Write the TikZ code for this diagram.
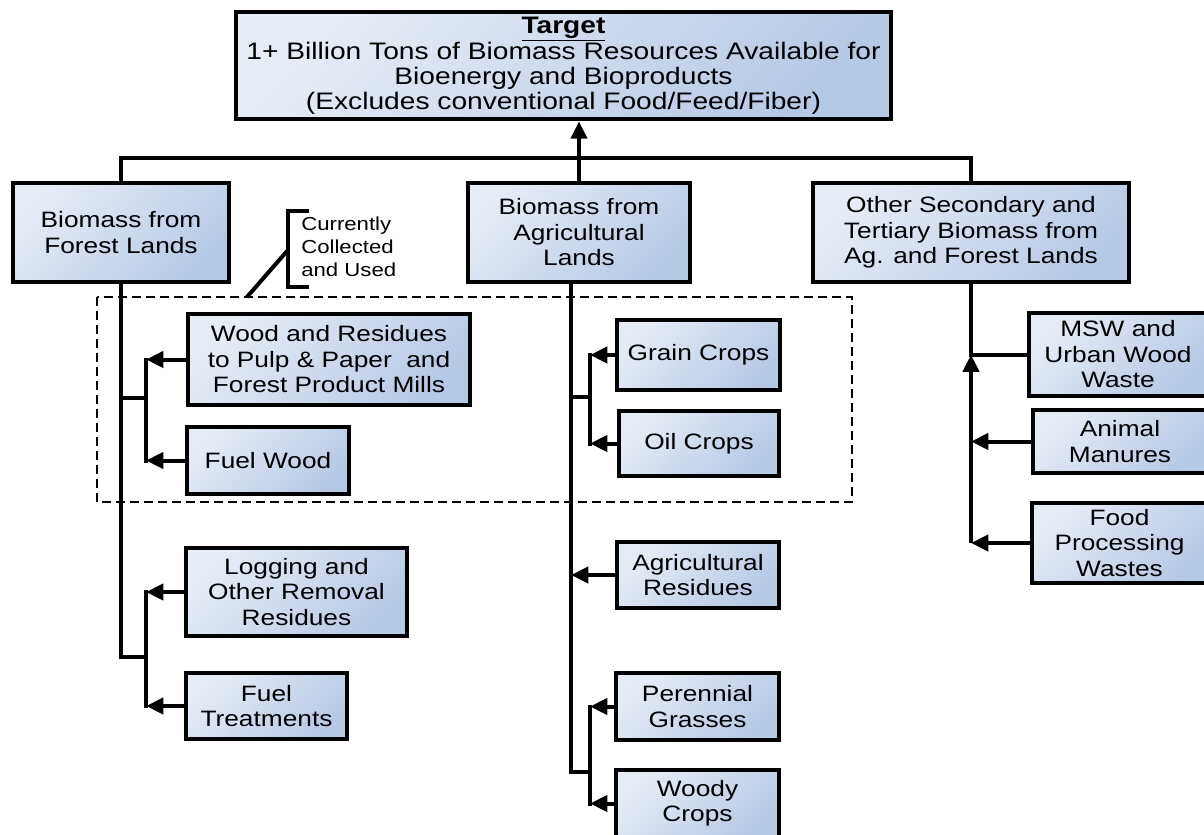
\documentclass[tikz,border=0pt]{standalone}
\usepackage{fontspec}
\setmainfont{Liberation Sans}[FakeStretch=1.18]
\usetikzlibrary{arrows.meta}
\definecolor{boxA}{RGB}{230,236,246}
\definecolor{boxB}{RGB}{182,201,228}
\newcommand\mybox[6]{\node[box, minimum width=#4*0.75pt, minimum height=#5*0.75pt] (#1) at (#2,#3) {#6};}
\begin{document}
\begin{tikzpicture}[x=0.75pt,y=-0.75pt,
  box/.style={draw=black, line width=3.5pt, top color=boxA, bottom color=boxB, shading angle=45,
    align=center, inner sep=0pt, font=\fontsize{16.7pt}{19.1pt}\selectfont},
  ln/.style={line width=3pt, line cap=rect},
  arr/.style={line width=3pt, -{Triangle[length=13pt,width=12pt]}}
]
\clip (0,0) rectangle (1204,835);
\fill[white] (0,0) rectangle (1204,835);

% dashed region
\draw[line width=1.5pt, dash pattern=on 6.5pt off 4pt] (97,297) rectangle (852,502);

% boxes
\node[box, font=\fontsize{17.9pt}{18.75pt}\selectfont, minimum width=655*0.75pt, minimum height=107*0.75pt] (target) at (563.5,65.5)
  {\underline{\textbf{Target}}\\1+ Billion Tons of Biomass Resources Available for\\Bioenergy and Bioproducts\\(Excludes conventional Food/Feed/Fiber)};
\mybox{forest}{121}{232.5}{216}{99}{Biomass from\\Forest Lands}
\mybox{ag}{579}{232.5}{222}{99}{Biomass from\\Agricultural\\Lands}
\mybox{other}{971}{232.5}{316}{99}{Other Secondary and\\Tertiary Biomass from\\Ag. and Forest Lands}
\mybox{wood}{329}{359.5}{282}{91}{Wood and Residues\\to Pulp \& Paper\ \ and\\Forest Product Mills}
\mybox{fuelwood}{268}{460.5}{162}{67}{Fuel Wood}
\mybox{logging}{296.5}{592}{221}{88}{Logging and\\Other Removal\\Residues}
\mybox{fueltreat}{266.5}{706}{161}{66}{Fuel\\Treatments}
\mybox{grain}{698.5}{355}{163}{70}{Grain Crops}
\mybox{oil}{699}{443.5}{160}{65}{Oil Crops}
\mybox{agres}{698}{575}{162}{66}{Agricultural\\Residues}
\mybox{perennial}{697.5}{706.5}{163}{67}{Perennial\\Grasses}
\mybox{woody}{697.5}{803.5}{163}{67}{Woody\\Crops}
\mybox{msw}{1118}{354.5}{178}{83}{MSW and\\Urban Wood\\Waste}
\mybox{animal}{1120}{441.5}{174}{63}{Animal\\Manures}
\mybox{food}{1119.5}{543}{175}{80}{Food\\Processing\\Wastes}

% note
\node[font=\fontsize{14.1pt}{17.3pt}\selectfont, align=left, anchor=west, inner sep=0pt] (cur) at (301,247) {Currently\\Collected\\and Used};
\coordinate (brk) at (288,250);
\coordinate (dsh) at (247,297);
\draw[line width=2.5pt] (309,211) -- (288,211) -- (288,287) -- (309,287);
\draw[line width=3pt] (dsh) -- (brk);

% top level
\coordinate (barL) at (121,158);
\coordinate (barR) at (971,158);
\draw[ln, line cap=butt] (forest.north) -- (forest.north |- barL) -- (barR) -- (other.north);
\draw[arr] (ag.north) -- (ag.north |- target.south);

% forest branch
\coordinate (fT) at (121,657);
\coordinate (fb) at (146,398);
\draw[ln] (forest.south) -- (fT) -- (fT -| fb);
\draw[ln] (forest.south |- fb) -- (fb);
\draw[ln] (wood.west -| fb) -- (fuelwood.west -| fb);
\draw[arr] (wood.west) -- (wood.west -| fb);
\draw[arr] (fuelwood.west) -- (fuelwood.west -| fb);
\draw[ln] (logging.west -| fb) -- (fueltreat.west -| fb);
\draw[arr] (logging.west) -- (logging.west -| fb);
\draw[arr] (fueltreat.west) -- (fueltreat.west -| fb);

% agricultural branch
\coordinate (aT) at (571,772);
\coordinate (ab) at (590,397);
\draw[ln] (ag.south -| aT) -- (aT) -- (aT -| ab);
\draw[ln] (aT |- ab) -- (ab);
\draw[ln] (grain.west -| ab) -- (oil.west -| ab);
\draw[arr] (grain.west) -- (grain.west -| ab);
\draw[arr] (oil.west) -- (oil.west -| ab);
\draw[arr] (agres.west) -- (agres.west -| aT);
\draw[ln] (perennial.west -| ab) -- (woody.west -| ab);
\draw[arr] (perennial.west) -- (perennial.west -| ab);
\draw[arr] (woody.west) -- (woody.west -| ab);

% other branch
\draw[ln] (other.south) -- (msw.west -| other.south);
\draw[ln] (msw.west) -- (msw.west -| other.south);
\draw[arr] (food.west -| other.south) -- (msw.west -| other.south);
\draw[arr] (animal.west) -- (animal.west -| other.south);
\draw[arr] (food.west) -- (food.west -| other.south);
\end{tikzpicture}
\end{document}
